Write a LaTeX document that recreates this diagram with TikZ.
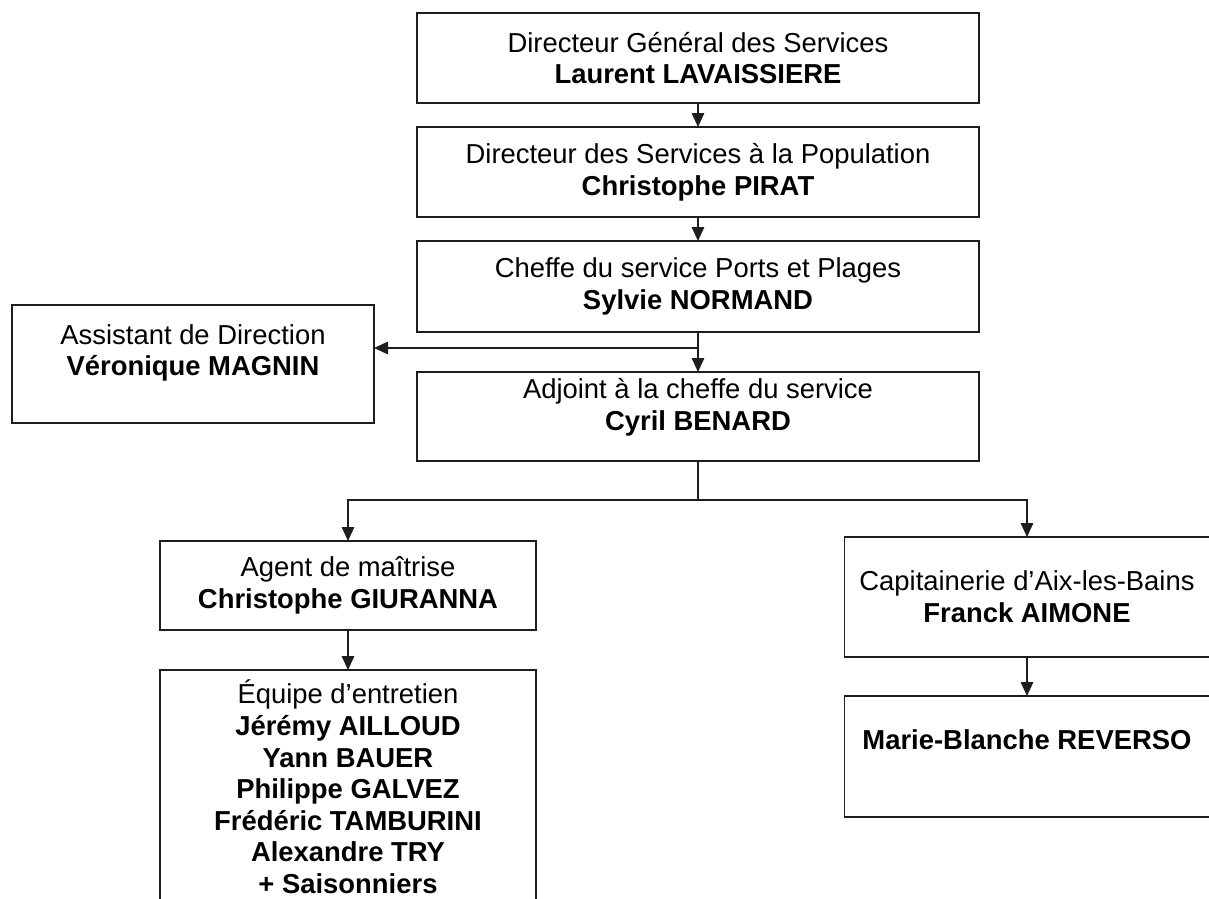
\documentclass[tikz,border=0pt]{standalone}
\usepackage{fontspec}
\setmainfont{Liberation Sans}
\usetikzlibrary{arrows.meta, positioning}
\definecolor{cLine}{RGB}{30,30,30}
\newcommand{\pushup}[1]{\rule[-#1]{0pt}{#1}}
\tikzset{
  orgbox/.style={rectangle, draw=cLine, line width=0.9pt, align=center,
                 font=\fontsize{15.6}{18}\selectfont,
                 inner xsep=2pt, inner ysep=0pt, outer sep=0pt},
  chiefbox/.style={orgbox, minimum width=11.24cm, minimum height=1.8cm},
  sidebox/.style={orgbox, minimum width=7.24cm},
  arrow/.style={-{Triangle[length=0.28cm, width=0.25cm]}, line width=0.9pt, draw=cLine},
  link/.style={line width=0.9pt, draw=cLine}
}

\begin{document}
\begin{tikzpicture}
  \useasboundingbox (0,0) rectangle (24.18,-17.98);

  % ── Direction ──
  \node[chiefbox] (dgs) at (13.96,-1.16)
      {Directeur Général des Services\\\textbf{Laurent LAVAISSIERE}};
  \node[chiefbox, below=0.48cm of dgs] (dsp)
      {Directeur des Services à la Population\\\textbf{Christophe PIRAT}};
  \node[chiefbox, minimum height=1.82cm, below=0.48cm of dsp] (chef)
      {Cheffe du service Ports et Plages\\\textbf{Sylvie NORMAND}};
  \node[chiefbox, minimum height=1.78cm, below=0.8cm of chef] (adj)
      {Adjoint à la cheffe du service\\\textbf{Cyril BENARD}\pushup{0.48cm}};

  \node[sidebox, minimum height=2.36cm] (asst) at (3.86,-7.28)
      {Assistant de Direction\\\textbf{Véronique MAGNIN}\pushup{0.56cm}};

  % ── Branches ──
  \node[sidebox, minimum width=7.52cm, minimum height=1.78cm] (agent) at (6.96,-11.71)
      {Agent de maîtrise\\\textbf{Christophe GIURANNA}};
  \node[sidebox, minimum width=7.52cm, inner ysep=0.2cm, below=0.8cm of agent] (equipe)
      {Équipe d’entretien\\\textbf{Jérémy AILLOUD}\\\textbf{Yann BAUER}\\
       \textbf{Philippe GALVEZ}\\\textbf{Frédéric TAMBURINI}\\
       \textbf{Alexandre TRY}\\\textbf{+ Saisonniers}};

  \node[sidebox, minimum width=7.3cm, minimum height=2.4cm] (capit) at (20.54,-11.94)
      {Capitainerie d’Aix-les-Bains\\\textbf{Franck AIMONE}};
  \node[sidebox, minimum width=7.3cm, minimum height=2.42cm, below=0.78cm of capit] (marie)
      {\textbf{Marie-Blanche REVERSO}\pushup{0.66cm}};

  \coordinate[below=0.32cm of chef.south] (tap);
  \coordinate[below=0.78cm of adj.south] (fork);

  \draw[arrow] (dgs.south) -- (dsp.north);
  \draw[arrow] (dsp.south) -- (chef.north);
  \draw[arrow] (chef.south) -- (adj.north);
  \draw[arrow] (tap) -- (tap -| asst.east);
  \draw[link] (adj.south) -- (fork);
  \draw[arrow] (fork) -| (agent.north);
  \draw[arrow] (fork) -| (capit.north);
  \draw[arrow] (agent.south) -- (equipe.north);
  \draw[arrow] (capit.south) -- (marie.north);

\end{tikzpicture}
\end{document}
